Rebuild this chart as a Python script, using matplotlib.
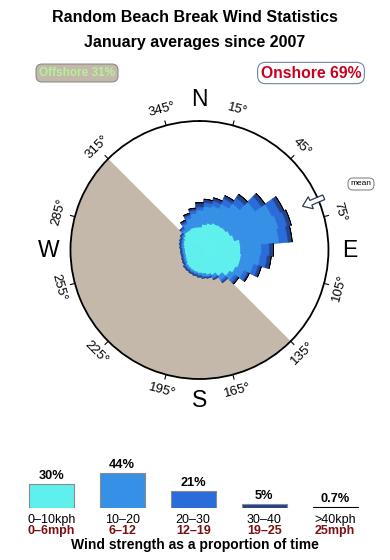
import numpy as np
import matplotlib
matplotlib.use('Agg')
import matplotlib.pyplot as plt
from matplotlib.patches import Polygon

plt.rcParams['font.family'] = ['Liberation Sans', 'DejaVu Sans']

# direction bins, compass degrees (bin centres)
directions = np.arange(0, 360, 10)

# percent of time in each direction bin, per speed class
kph_0_10 = [0.59, 0.75, 0.87, 1.00, 1.07, 1.14, 1.28, 1.44, 1.87, 1.87, 1.96, 1.96,
            1.78, 1.52, 1.14, 0.87, 0.75, 0.64, 0.59, 0.54, 0.49, 0.44, 0.40, 0.32,
            0.28, 0.25, 0.25, 0.25, 0.28, 0.32, 0.36, 0.44, 0.54, 0.54, 0.59, 0.59]
kph_10_20 = [1.19, 1.40, 1.48, 1.89, 2.54, 4.00, 5.83, 6.03, 5.24, 2.40, 2.17, 1.52,
             0.89, 0.53, 0.38, 0.20, 0.12, 0.17, 0.11, 0.10, 0.10, 0.09, 0.09, 0.08,
             0.08, 0.07, 0.07, 0.07, 0.08, 0.08, 0.08, 0.09, 0.16, 0.40, 0.62, 0.93]
kph_20_30 = [0.28, 0.41, 0.54, 0.72, 0.94, 1.28, 1.69, 1.73, 1.69, 1.17, 1.00, 0.65,
             0.45, 0.30, 0.17, 0.07, 0.06, 0.06, 0.06, 0.05, 0.05, 0.05, 0.05, 0.04,
             0.04, 0.04, 0.04, 0.04, 0.04, 0.04, 0.05, 0.05, 0.12, 0.13, 0.23, 0.26]
kph_30_40 = [0.40, 0.33, 0.35, 0.39, 0.59, 0.69, 0.81, 0.83, 0.81, 0.64, 0.62, 0.42,
             0.24, 0.21, 0.09, 0.07, 0.03, 0.03, 0.06, 0.06, 0.05, 0.05, 0.05, 0.05,
             0.04, 0.04, 0.04, 0.04, 0.04, 0.05, 0.05, 0.05, 0.06, 0.14, 0.16, 0.18]
kph_40_up = [0.06, 0.02, 0.02, 0.02, 0.03, 0.04, 0.05, 0.05, 0.05, 0.03, 0.02, 0.01,
             0.01, 0.01, 0.00, 0.00, 0.00, 0.00, 0.00, 0.00, 0.00, 0.00, 0.00, 0.00,
             0.00, 0.00, 0.00, 0.00, 0.00, 0.00, 0.00, 0.00, 0.00, 0.01, 0.01, 0.02]

speed_kph = ['0–10kph', '10–20', '20–30', '30–40', '>40kph']
speed_mph = ['0–6mph', '6–12', '12–19', '19–25', '25mph']
speed_share = [30, 44, 21, 5, 0.7]
speed_share_text = ['30%', '44%', '21%', '5%', '0.7%']
speed_colors = ['#5ff0ee', '#3590e6', '#2a6cda', '#24438a', '#000000']

offshore_pct = 31
onshore_pct = 69
offshore_start, offshore_end = 135, 315
mean_dir = 67
tick_dirs = np.arange(15, 360, 30)
compass = [(0, 'N'), (90, 'E'), (180, 'S'), (270, 'W')]

fig = plt.figure(figsize=(3.9, 5.6), dpi=100)

fig.text(0.5, 1 - 18 / 560, 'Random Beach Break Wind Statistics',
         ha='center', va='center', fontsize=11.5, fontweight='bold')
fig.text(0.5, 1 - 42 / 560, 'January averages since 2007',
         ha='center', va='center', fontsize=11.5, fontweight='bold')
fig.text(77 / 390, 1 - 73 / 560, 'Offshore %d%%' % offshore_pct,
         ha='center', va='center', fontsize=8.5, fontweight='bold', color='#b4f09c',
         bbox=dict(boxstyle='round,pad=0.25,rounding_size=0.5', fc='#c4b8aa', ec='#8a8a8a', lw=0.8))
fig.text(311 / 390, 1 - 73 / 560, 'Onshore %d%%' % onshore_pct,
         ha='center', va='center', fontsize=11.3, fontweight='bold', color='#c8001e',
         bbox=dict(boxstyle='round,pad=0.2,rounding_size=0.5', fc='white', ec='#6d86a8', lw=0.8))
fig.text(361 / 390, 1 - 184 / 560, 'mean', ha='center', va='center', fontsize=6,
         bbox=dict(boxstyle='round,pad=0.3,rounding_size=0.6', fc='white', ec='#777777', lw=0.7))

# rose
ax = fig.add_axes([0.1807, 0.3232, 0.6615, 0.4607], projection='polar')
ax.set_theta_zero_location('N')
ax.set_theta_direction(-1)
rmax = 4.3
ax.set_ylim(0, rmax)
ax.grid(False)
ax.set_xticks([])
ax.set_yticks([])
ax.spines['polar'].set_linewidth(1.3)

# offshore half of the disc
mid = np.deg2rad((offshore_start + offshore_end) / 2)
ax.bar(mid, rmax, width=np.deg2rad(offshore_end - offshore_start), bottom=0,
       color='#c4b8aa', linewidth=0, zorder=1)

classes = np.array([kph_0_10, kph_10_20, kph_20_30, kph_30_40, kph_40_up])
radius = np.sqrt(np.cumsum(classes, axis=0))
theta = np.deg2rad(directions)
for i in range(len(classes)):
    bottom = radius[i - 1] if i > 0 else np.zeros(len(directions))
    keep = classes[i] > 0
    ax.bar(theta[keep], (radius[i] - bottom)[keep], width=np.deg2rad(10), bottom=bottom[keep],
           color=speed_colors[i], edgecolor=speed_colors[i], linewidth=0.5, zorder=2 + i)

# degree ticks and labels
for d in tick_dirs:
    th = np.deg2rad(d)
    ax.plot([th, th], [rmax, rmax * 1.035], color='black', lw=0.8, clip_on=False, zorder=10)
    rot = -d
    while rot <= -90:
        rot += 180
    ax.text(th, 4.85, '%d°' % d, rotation=rot, ha='center', va='center',
            rotation_mode='anchor', fontsize=9.5)

for d, name in compass:
    ax.text(np.deg2rad(d), 5.02, name, ha='center', va='center', fontsize=16.5)

# mean direction arrow, shape given in px along / across the radius
thm = np.deg2rad(mean_dir)
along = np.array([112, 121, 121, 135, 135, 121, 121])
across = np.array([0, 6.5, 2.5, 2.5, -2.5, -2.5, -6.5])
ex, ey = np.sin(thm), np.cos(thm)
px = along * ex + across * ey
py = along * ey - across * ex
arrow = Polygon(np.column_stack([np.arctan2(px, py), np.hypot(px, py) / 30]),
                closed=True, fc='white', ec='#2b3a58', lw=0.9, zorder=11, clip_on=False)
ax.add_patch(arrow)

# speed legend
lax = fig.add_axes([15.7 / 390, (560 - 507.7) / 560, 355 / 390, 40 / 560])
xs = np.arange(len(speed_share))
lax.bar(xs[:-1], speed_share[:-1], width=0.634, color=speed_colors[:-1],
        edgecolor='#8a8a8a', linewidth=0.8)
lax.bar(xs[-1], speed_share[-1], width=0.634, color='black', edgecolor='black', linewidth=0.8)
lax.set_xlim(-0.5, 4.5)
lax.set_ylim(0, 50)
lax.axis('off')
for x, v, t, k, m in zip(xs, speed_share, speed_share_text, speed_kph, speed_mph):
    lax.text(x, v + 10, t, ha='center', va='center', fontsize=9.2, fontweight='bold', clip_on=False)
    lax.text(x, -15, k, ha='center', va='center', fontsize=9, clip_on=False)
    lax.text(x, -29, m, ha='center', va='center', fontsize=9, fontweight='bold',
             color='#7a1010', clip_on=False)

fig.text(0.5, 1 - 545 / 560, 'Wind strength as a proportion of time',
         ha='center', va='center', fontsize=10, fontweight='bold')

fig.savefig('out.png', dpi=100)
